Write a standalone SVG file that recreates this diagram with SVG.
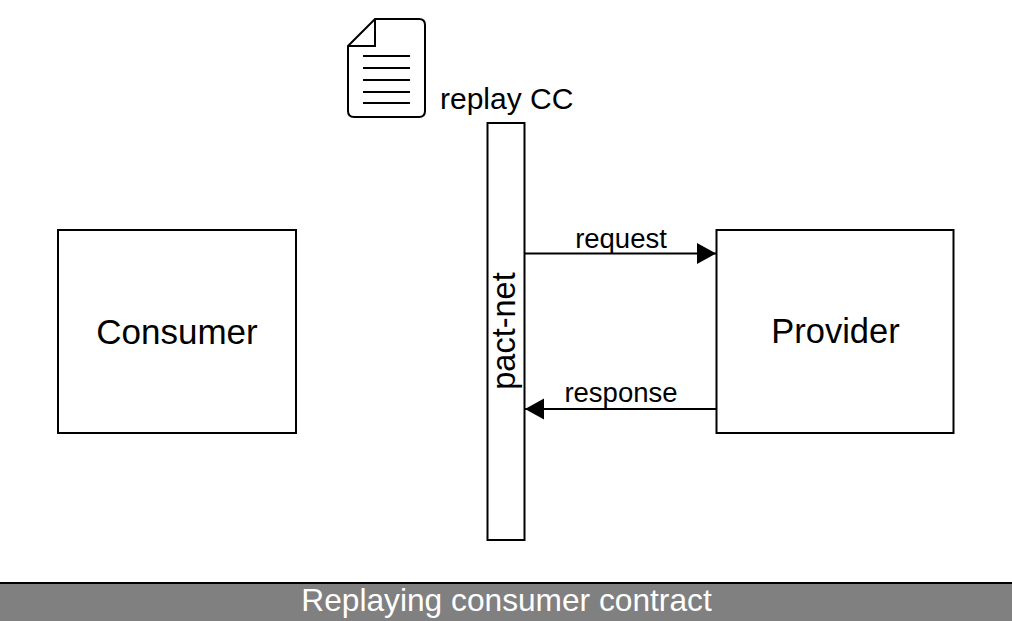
<svg xmlns="http://www.w3.org/2000/svg" width="1012" height="621" viewBox="0 0 1012 621">
<style>
text{font-family:"Liberation Sans",Arial,sans-serif;fill:#000}
.box{fill:#fff;stroke:#000;stroke-width:2}
.line{fill:none;stroke:#000;stroke-width:2}
.c{text-anchor:middle}
</style>
<defs>
<marker id="arrow" markerUnits="userSpaceOnUse" markerWidth="20" markerHeight="22" refX="19" refY="10.500" orient="auto"><path d="M0 0L19 10.500L0 21Z" fill="#000"/></marker>
</defs>
<rect width="1012" height="621" fill="#fff"/>
<g id="consumer"><rect class="box" x="58" y="230" width="238" height="203"/><text class="c" x="177" y="344" font-size="35">Consumer</text></g>
<g id="provider"><rect class="box" x="716.500" y="230" width="237" height="203"/><text class="c" x="835.500" y="343" font-size="34.500">Provider</text></g>
<g id="pact-net"><rect class="box" x="487.500" y="123" width="37" height="417"/><text class="c" transform="translate(515 331) rotate(-90)" font-size="32.500">pact-net</text></g>
<g id="replay-cc">
<path class="line" d="M348 46L375 19H419Q425 19 425 25V111Q425 117 419 117H354Q348 117 348 111ZM348 46H375V19"/>
<path class="line" d="M363 56H410M363 68H410M363 80H410M363 92H410M363 103H410"/>
<text x="440" y="109" font-size="30">replay CC</text>
</g>
<g id="connectors">
<path class="line" marker-end="url(#arrow)" d="M525 253.500H716"/>
<path class="line" marker-end="url(#arrow)" d="M716 409H525"/>
</g>
<text class="c" x="621" y="248" font-size="27.500">request</text>
<text class="c" x="621" y="402" font-size="27.500">response</text>
<g id="caption">
<rect x="0" y="582" width="1012" height="39" fill="#808080"/>
<path d="M0 583H1012" stroke="#000" stroke-width="2"/>
<text class="c" x="506.500" y="611" font-size="31.700" style="fill:#fff">Replaying consumer contract</text>
</g>
</svg>
